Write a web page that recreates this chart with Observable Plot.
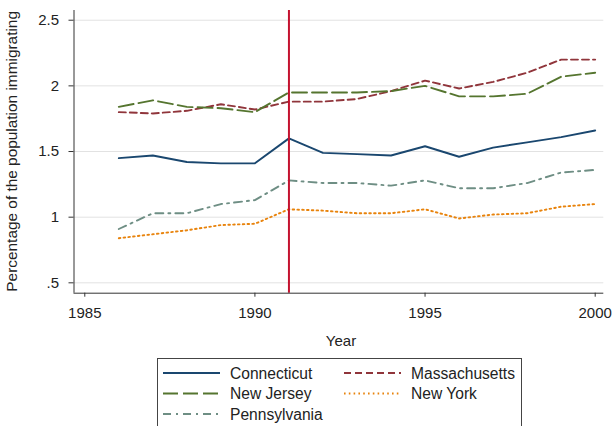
<!DOCTYPE html>
<html><head><meta charset="utf-8">
<script src="https://cdn.jsdelivr.net/npm/d3@7"></script>
<script src="https://cdn.jsdelivr.net/npm/@observablehq/plot@0.6"></script>
<style>
body{margin:0;background:#fff;font-family:"Liberation Sans",Arial,sans-serif;}
#wrap{position:relative;width:612px;height:426px;overflow:hidden;background:#fff;}
#legend{position:absolute;left:157px;top:358px;}
</style></head><body><div id="wrap"><div id="chart"></div><div id="legend"></div></div>
<script>
// ---- data ----
const years = [1986,1987,1988,1989,1990,1991,1992,1993,1994,1995,1996,1997,1998,1999,2000];
const connecticut   = [1.45,1.47,1.42,1.41,1.41,1.60,1.49,1.48,1.47,1.54,1.46,1.53,1.57,1.61,1.66];
const massachusetts = [1.80,1.79,1.81,1.86,1.82,1.88,1.88,1.90,1.96,2.04,1.98,2.03,2.10,2.20,2.20];
const newJersey     = [1.84,1.89,1.84,1.83,1.80,1.95,1.95,1.95,1.96,2.00,1.92,1.92,1.94,2.07,2.10];
const newYork       = [0.84,0.87,0.90,0.94,0.95,1.06,1.05,1.03,1.03,1.06,0.99,1.02,1.03,1.08,1.10];
const pennsylvania  = [0.91,1.03,1.03,1.10,1.13,1.28,1.26,1.26,1.24,1.28,1.22,1.22,1.26,1.34,1.36];
const policyYear = [1991];
const xTicks = [1985,1990,1995,2000];
const yTicks = [0.5,1,1.5,2,2.5];
const yTickLabels = [".5","1","1.5","2","2.5"];
const xTitle = "Year";
const yTitle = "Percentage of the population immigrating";

// ---- styling ----
const xDomain = [1984.683, 2000.253];
const yDomain = [0.421, 2.574];
const series = [
  {name:"Connecticut",   values:connecticut,   color:"#1a476f", dash:null},
  {name:"Massachusetts", values:massachusetts, color:"#90353b", dash:"7,4"},
  {name:"New Jersey",    values:newJersey,     color:"#55752f", dash:"15,5"},
  {name:"New York",      values:newYork,       color:"#e8830c", dash:"1.6,3.2"},
  {name:"Pennsylvania",  values:pennsylvania,  color:"#6e8e84", dash:"8,5,2,5"}
];
const W = 612, H = 352;
const mL = 73.5, mR = 8.7, mT = 10, mB = 59.3;

const lineMarks = series.map(s => Plot.line(
  years.map((yr, i) => ({year: yr, value: s.values[i]})),
  {x: "year", y: "value", stroke: s.color, strokeWidth: 1.9,
   strokeDasharray: s.dash || undefined, strokeLinejoin: "round"}));

const plot = Plot.plot({
  width: W, height: H,
  marginLeft: mL, marginRight: mR, marginTop: mT, marginBottom: mB,
  style: {fontFamily: '"Liberation Sans", Arial, sans-serif', fontSize: "15px", color: "#222", background: "#fff"},
  x: {domain: xDomain, label: null},
  y: {domain: yDomain, label: null},
  marks: [
    Plot.gridY(yTicks, {stroke: "#e2e2e2", strokeOpacity: 1, strokeWidth: 1}),
    ...lineMarks,
    Plot.ruleX(policyYear, {stroke: "#c4122f", strokeWidth: 2}),
    Plot.ruleX([xDomain[0]], {stroke: "#333", strokeWidth: 1}),
    Plot.ruleY([yDomain[0]], {stroke: "#333", strokeWidth: 1}),
    Plot.axisY({ticks: yTicks, tickFormat: d => yTickLabels[yTicks.indexOf(d)], tickSize: 5, tickPadding: 10, fontSize: 15, label: null, stroke: "#333"}),
    Plot.axisX({ticks: xTicks, tickFormat: d => String(d), tickSize: 4, tickPadding: 10, fontSize: 15, label: null, stroke: "#333"})
  ]
});
document.getElementById("chart").appendChild(plot);

const svg = d3.select(plot);
svg.append("text").attr("transform", `translate(17,${(mT + H - mB) / 2}) rotate(-90)`)
  .attr("text-anchor", "middle").attr("font-size", 15.4).attr("fill", "#222").text(yTitle);
svg.append("text").attr("x", 341).attr("y", 346)
  .attr("text-anchor", "middle").attr("font-size", 15).attr("fill", "#222").text(xTitle);

// ---- legend ----
const lg = d3.select("#legend").append("svg").attr("width", 366).attr("height", 80);
lg.append("rect").attr("x", 0.5).attr("y", 0.5).attr("width", 364).attr("height", 90)
  .attr("fill", "#fff").attr("stroke", "#444");
const order = ["Connecticut","Massachusetts","New Jersey","New York","Pennsylvania"];
order.forEach((nm, i) => {
  const s = series.find(d => d.name === nm);
  const col = i % 2, row = Math.floor(i / 2);
  const x0 = col === 0 ? 6 : 187, y0 = 15 + row * 20.5;
  lg.append("line").attr("x1", x0).attr("x2", x0 + 57).attr("y1", y0).attr("y2", y0)
    .attr("stroke", s.color).attr("stroke-width", 1.8).attr("stroke-dasharray", s.dash);
  lg.append("text").attr("x", x0 + 67).attr("y", y0 + 5.5).attr("font-size", 15.6)
    .attr("fill", "#222").text(nm);
});
</script></body></html>
